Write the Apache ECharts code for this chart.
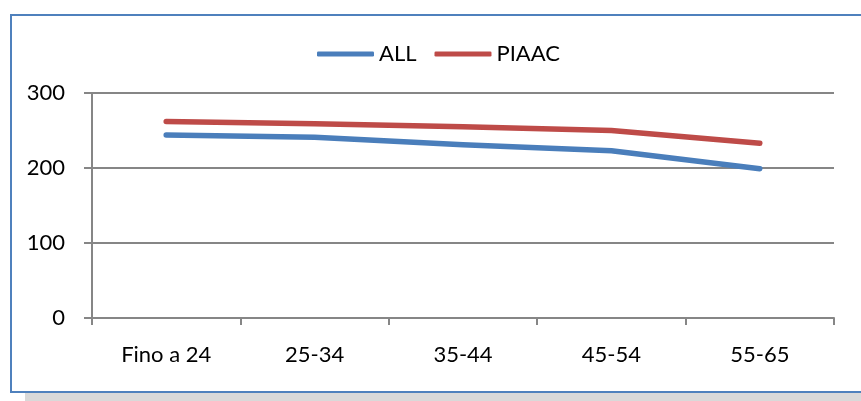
<!DOCTYPE html>
<html>
<head>
<meta charset="utf-8">
<script src="https://cdn.jsdelivr.net/npm/echarts@6/dist/echarts.min.js"></script>
<style>
html,body{margin:0;padding:0;background:#fff;}
#c{width:861px;height:401px;}
</style>
</head>
<body>
<div id="c"></div>
<script>
var categories = ['Fino a 24', '25-34', '35-44', '45-54', '55-65'];
var allValues = [244, 241, 231, 223, 199];
var piaacValues = [262, 259, 255, 250, 233];
var seriesNames = ['ALL', 'PIAAC'];
var yTicks = [0, 100, 200, 300];

var FONT = 'Lato';
var chart = echarts.init(document.getElementById('c'), null, {renderer: 'canvas'});
chart.setOption({
  animation: false,
  backgroundColor: '#ffffff',
  graphic: [
    {type: 'rect', z: -10, shape: {x: 25, y: 393, width: 900, height: 12}, style: {fill: '#d9d9d9'}},
    {type: 'rect', z: -9, shape: {x: 11, y: 15, width: 900, height: 377}, style: {fill: '#ffffff', stroke: '#4f81bd', lineWidth: 2}}
  ],
  legend: {
    top: 38,
    left: 312,
    data: seriesNames,
    icon: 'roundRect',
    itemWidth: 57,
    itemHeight: 5,
    itemGap: 18,
    textStyle: {fontFamily: FONT, fontSize: 22, color: '#000'}
  },
  grid: {left: 92, right: 27, top: 93, bottom: 83},
  xAxis: {
    type: 'category',
    data: categories,
    boundaryGap: true,
    axisLine: {lineStyle: {color: '#868686', width: 2}},
    axisTick: {show: true, length: 7, lineStyle: {color: '#868686', width: 2}},
    axisLabel: {margin: 26, fontFamily: FONT, fontSize: 22, color: '#000'},
    splitLine: {show: false}
  },
  yAxis: {
    type: 'value',
    min: yTicks[0],
    max: yTicks[yTicks.length - 1],
    interval: 100,
    axisLine: {show: true, lineStyle: {color: '#868686', width: 2}},
    axisTick: {show: true, length: 8, lineStyle: {color: '#868686', width: 2}},
    axisLabel: {margin: 27, fontFamily: FONT, fontSize: 22, color: '#000'},
    splitLine: {show: true, lineStyle: {color: '#868686', width: 2}}
  },
  series: [
    {name: seriesNames[0], type: 'line', data: allValues, showSymbol: false, symbol: 'none',
     itemStyle: {color: '#4a7ebb'},
     lineStyle: {color: '#4a7ebb', width: 5.5, cap: 'round', join: 'round'}},
    {name: seriesNames[1], type: 'line', data: piaacValues, showSymbol: false, symbol: 'none',
     itemStyle: {color: '#be4b48'},
     lineStyle: {color: '#be4b48', width: 5.5, cap: 'round', join: 'round'}}
  ]
});
</script>
</body>
</html>
